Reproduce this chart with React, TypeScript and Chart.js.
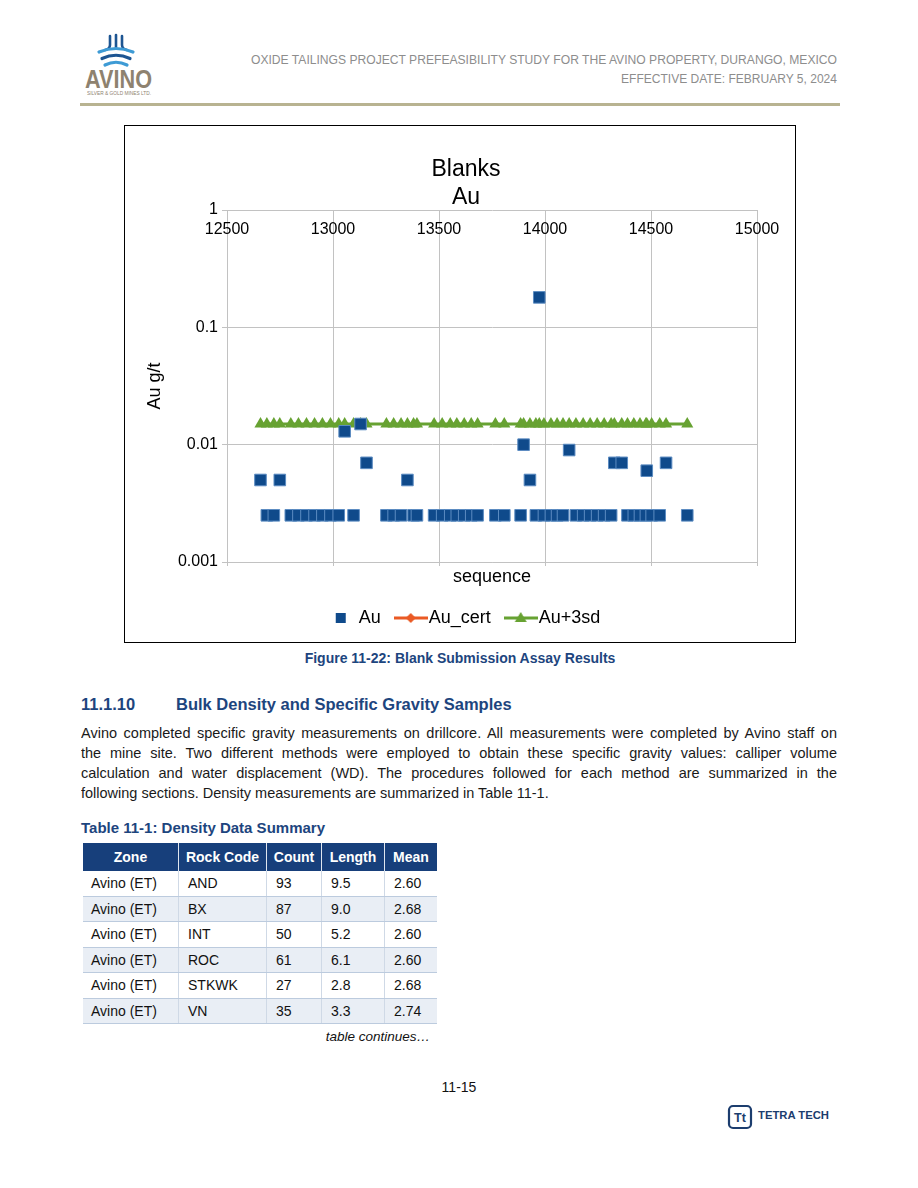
import React, { useEffect, useRef } from 'react';
import { Chart, registerables } from 'chart.js';

Chart.register(...registerables);

// ---------- chart data ----------
const sequence = [
  12658, 12688, 12721, 12749, 12801, 12837, 12875, 12913, 12950, 12988,
  13027, 13055, 13097, 13130, 13158, 13252, 13286, 13321, 13351, 13380,
  13396, 13477, 13515, 13553, 13584, 13619, 13652, 13682, 13766, 13808,
  13885, 13899, 13929, 13957, 13973, 13995, 14028, 14057, 14085, 14114,
  14146, 14180, 14213, 14246, 14279, 14312, 14327, 14362, 14389, 14419,
  14448, 14476, 14480, 14503, 14541, 14571, 14671,
];
const auValues = [
  0.005, 0.0025, 0.0025, 0.005, 0.0025, 0.0025, 0.0025, 0.0025, 0.0025, 0.0025,
  0.0025, 0.013, 0.0025, 0.015, 0.007, 0.0025, 0.0025, 0.0025, 0.005, 0.0025,
  0.0025, 0.0025, 0.0025, 0.0025, 0.0025, 0.0025, 0.0025, 0.0025, 0.0025, 0.0025,
  0.0025, 0.01, 0.005, 0.0025, 0.18, 0.0025, 0.0025, 0.0025, 0.0025, 0.009,
  0.0025, 0.0025, 0.0025, 0.0025, 0.0025, 0.0025, 0.007, 0.007, 0.0025, 0.0025,
  0.0025, 0.0025, 0.006, 0.0025, 0.0025, 0.007, 0.0025,
];
const auPlus3sd = [
  0.015, 0.015, 0.015, 0.015, 0.015, 0.015, 0.015, 0.015, 0.015, 0.015,
  0.015, 0.015, 0.015, 0.015, 0.015, 0.015, 0.015, 0.015, 0.015, 0.015,
  0.015, 0.015, 0.015, 0.015, 0.015, 0.015, 0.015, 0.015, 0.015, 0.015,
  0.015, 0.015, 0.015, 0.015, 0.015, 0.015, 0.015, 0.015, 0.015, 0.015,
  0.015, 0.015, 0.015, 0.015, 0.015, 0.015, 0.015, 0.015, 0.015, 0.015,
  0.015, 0.015, 0.015, 0.015, 0.015, 0.015, 0.015,
];
// certified value of a blank is zero: nothing can be drawn on the log axis
const auCert: { x: number; y: number }[] = [];

const seriesNames = ['Au', 'Au_cert', 'Au+3sd'];
const chartTitle = ['Blanks', 'Au'];
const xAxisTitle = 'sequence';
const yAxisTitle = 'Au g/t';
const xTickValues = [12500, 13000, 13500, 14000, 14500, 15000];
const xTickLabels = ['12500', '13000', '13500', '14000', '14500', '15000'];
const yTickValues = [0.001, 0.01, 0.1, 1];
const yTickLabels = ['0.001', '0.01', '0.1', '1'];

// ---------- table data ----------
const tableHeaders = ['Zone', 'Rock Code', 'Count', 'Length', 'Mean'];
const tableZones = ['Avino (ET)', 'Avino (ET)', 'Avino (ET)', 'Avino (ET)', 'Avino (ET)', 'Avino (ET)'];
const tableRockCodes = ['AND', 'BX', 'INT', 'ROC', 'STKWK', 'VN'];
const tableCounts = ['93', '87', '50', '61', '27', '35'];
const tableLengths = ['9.5', '9.0', '5.2', '6.1', '2.8', '3.3'];
const tableMeans = ['2.60', '2.68', '2.60', '2.60', '2.68', '2.74'];

const paragraphLines = [
  'Avino completed specific gravity measurements on drillcore. All measurements were completed by Avino staff on',
  'the mine site. Two different methods were employed to obtain these specific gravity values: calliper volume',
  'calculation and water displacement (WD). The procedures followed for each method are summarized in the',
  'following sections. Density measurements are summarized in Table 11-1.',
];

// ---------- styles ----------
const FONT = "'Liberation Sans', Arial, Helvetica, sans-serif";
const NARROW = "'Liberation Sans Narrow', 'Arial Narrow', 'Liberation Sans', Arial, sans-serif";
const BLUE = '#0f4a8b';
const GREEN = '#67a232';
const ORANGE = '#ea5a24';
const GRID = '#c2c2c2';
const NAVY = '#1d457e';

function BlanksChart() {
  const ref = useRef<HTMLCanvasElement | null>(null);
  useEffect(() => {
    const canvas = ref.current;
    if (!canvas) return;
    const makeIcon = (draw: (g: CanvasRenderingContext2D) => void) => {
      const c = document.createElement('canvas');
      c.width = 34;
      c.height = 18;
      const g = c.getContext('2d');
      if (g) draw(g);
      return c;
    };
    const icons = [
      makeIcon((g) => {
        g.fillStyle = BLUE;
        g.fillRect(12, 4, 10, 10);
      }),
      makeIcon((g) => {
        g.strokeStyle = ORANGE;
        g.lineWidth = 3;
        g.beginPath();
        g.moveTo(0, 9);
        g.lineTo(34, 9);
        g.stroke();
        g.fillStyle = ORANGE;
        g.beginPath();
        g.moveTo(17, 4);
        g.lineTo(22, 9);
        g.lineTo(17, 14);
        g.lineTo(12, 9);
        g.closePath();
        g.fill();
      }),
      makeIcon((g) => {
        g.strokeStyle = GREEN;
        g.lineWidth = 3;
        g.beginPath();
        g.moveTo(0, 9);
        g.lineTo(34, 9);
        g.stroke();
        g.fillStyle = GREEN;
        g.beginPath();
        g.moveTo(17, 3);
        g.lineTo(23, 13);
        g.lineTo(11, 13);
        g.closePath();
        g.fill();
      }),
    ];

    const topTickLabels = {
      id: 'topTickLabels',
      afterDraw(chart: any) {
        const { ctx, chartArea } = chart;
        const xs = chart.scales.x;
        ctx.save();
        ctx.font = `16px ${FONT}`;
        ctx.fillStyle = '#000';
        ctx.textAlign = 'center';
        ctx.textBaseline = 'middle';
        xTickValues.forEach((v, i) => {
          ctx.fillText(xTickLabels[i], xs.getPixelForValue(v), chartArea.top + 20);
        });
        ctx.restore();
      },
    };

    const chart = new Chart(canvas, {
      type: 'scatter',
      data: {
        datasets: [
          {
            label: seriesNames[0],
            data: sequence.map((x, i) => ({ x, y: auValues[i] })),
            pointStyle: 'rect',
            pointRadius: 8.2,
            backgroundColor: BLUE,
            borderColor: '#5c8cc2',
            borderWidth: 1,
            showLine: false,
          },
          {
            label: seriesNames[1],
            data: auCert,
            pointStyle: 'rectRot',
            pointRadius: 5,
            backgroundColor: ORANGE,
            borderColor: ORANGE,
            borderWidth: 3,
            showLine: true,
          },
          {
            label: seriesNames[2],
            data: sequence.map((x, i) => ({ x, y: auPlus3sd[i] })),
            pointStyle: 'triangle',
            pointRadius: 7,
            pointBorderWidth: 0,
            backgroundColor: GREEN,
            borderColor: GREEN,
            borderWidth: 3.2,
            showLine: true,
          },
        ],
      } as any,
      options: {
        animation: false,
        responsive: false,
        events: [],
        layout: { padding: { left: 50, right: 38, top: 0, bottom: 5 } },
        plugins: {
          tooltip: { enabled: false },
          title: {
            display: true,
            text: chartTitle,
            color: '#000',
            font: { family: FONT, size: 23, weight: 'normal', lineHeight: '28px' },
            padding: { top: 30, bottom: -2 },
          },
          legend: {
            display: true,
            position: 'bottom',
            align: 'center',
            labels: {
              usePointStyle: true,
              pointStyleWidth: 18,
              padding: 21,
              color: '#000',
              font: { family: FONT, size: 18 },
              generateLabels: (ch: any) =>
                ch.data.datasets.map((ds: any, i: number) => ({
                  text: ds.label,
                  pointStyle: icons[i],
                  fillStyle: 'rgba(0,0,0,0)',
                  strokeStyle: 'rgba(0,0,0,0)',
                  lineWidth: 0,
                  hidden: false,
                  fontColor: '#000',
                  datasetIndex: i,
                })),
            },
          },
        },
        scales: {
          x: {
            type: 'linear',
            position: 'bottom',
            min: xTickValues[0],
            max: xTickValues[xTickValues.length - 1],
            afterBuildTicks: (s: any) => {
              s.ticks = xTickValues.map((v) => ({ value: v }));
            },
            ticks: { display: false },
            grid: { color: GRID, tickLength: 4, drawTicks: true },
            border: { color: GRID },
            title: {
              display: true,
              text: xAxisTitle,
              color: '#000',
              font: { family: FONT, size: 18 },
              padding: { top: 0, bottom: 0 },
            },
            afterFit: (s: any) => {
              s.height = 26;
            },
          },
          y: {
            type: 'logarithmic',
            min: yTickValues[0],
            max: yTickValues[yTickValues.length - 1],
            afterBuildTicks: (s: any) => {
              s.ticks = yTickValues.map((v) => ({ value: v }));
            },
            ticks: {
              autoSkip: false,
              color: '#000',
              padding: 4,
              font: { family: FONT, size: 16 },
              callback: (_v: any, i: number) => yTickLabels[i],
            },
            grid: { color: GRID, tickLength: 5, drawTicks: true },
            border: { color: GRID },
            title: {
              display: true,
              text: yAxisTitle,
              color: '#000',
              font: { family: FONT, size: 18 },
              padding: { top: -31, bottom: 0 },
            },
            afterFit: (s: any) => {
              s.width = 52;
            },
          },
        },
      } as any,
      plugins: [topTickLabels],
    });
    return () => chart.destroy();
  }, []);
  return <canvas ref={ref} width={670} height={516} style={{ display: 'block', width: 670, height: 516 }} />;
}

const abs = (left: number, top: number, extra: React.CSSProperties = {}): React.CSSProperties => ({
  position: 'absolute',
  left,
  top,
  ...extra,
});

function AvinoLogo() {
  return (
    <svg style={abs(80, 30)} width={80} height={72}>
      <g fill="none" strokeLinecap="round">
        <path d="M30 6 L30 15 Q30 19 25 20" stroke="#1d5592" strokeWidth={2.6} />
        <path d="M36 5 L36 17" stroke="#1d5592" strokeWidth={2.6} />
        <path d="M42 6 L42 15 Q42 19 47 20" stroke="#1d5592" strokeWidth={2.6} />
        <path d="M19 22 Q36 15 53 22" stroke="#3e9bd5" strokeWidth={3.2} />
        <path d="M22 28.5 Q36 22 50 28.5" stroke="#1d5592" strokeWidth={3.2} />
        <path d="M25 35 Q36 29.5 47 35" stroke="#3e9bd5" strokeWidth={3.2} />
      </g>
      <text x={5} y={58} fontFamily={NARROW} fontSize={26} fontWeight="bold" fill="#8e826f" textLength={67} lengthAdjust="spacingAndGlyphs">
        AVINO
      </text>
      <text x={7} y={65} fontFamily={FONT} fontSize={4.5} fill="#8e826f" textLength={64} lengthAdjust="spacingAndGlyphs">
        SILVER &amp; GOLD MINES LTD.
      </text>
    </svg>
  );
}

function TetraTechLogo() {
  return (
    <svg style={abs(727, 1103)} width={110} height={30}>
      <rect x={2} y={3} width={22} height={22} rx={4} fill="none" stroke="#1c3d6e" strokeWidth={2.2} />
      <text x={13} y={19} textAnchor="middle" fontFamily={FONT} fontSize={12.5} fontWeight="bold" fill="#1c3d6e">
        Tt
      </text>
      <text x={31} y={16} fontFamily={FONT} fontSize={10.5} fontWeight="bold" fill="#1c3d6e" textLength={71} lengthAdjust="spacingAndGlyphs">
        TETRA TECH
      </text>
    </svg>
  );
}

function DensityTable() {
  const colW = [95, 88, 55, 63, 53];
  const rows = tableZones.map((z, i) => [z, tableRockCodes[i], tableCounts[i], tableLengths[i], tableMeans[i]]);
  return (
    <div style={abs(83, 843, { width: 354 })}>
      <div style={{ display: 'flex', height: 28, background: '#173f7b' }}>
        {tableHeaders.map((h, i) => (
          <div
            key={h}
            style={{
              width: colW[i],
              boxSizing: 'border-box',
              borderLeft: i ? '1px solid #dfe6ef' : 'none',
              color: '#fff',
              fontWeight: 'bold',
              fontSize: 14,
              lineHeight: '28px',
              textAlign: 'center',
              whiteSpace: 'nowrap',
            }}
          >
            {h}
          </div>
        ))}
      </div>
      {rows.map((r, ri) => (
        <div
          key={ri}
          style={{
            display: 'flex',
            height: 25.5,
            boxSizing: 'border-box',
            borderBottom: '1.5px solid #bccbde',
            background: ri % 2 ? '#e9eef5' : '#fff',
          }}
        >
          {r.map((c, ci) => (
            <div
              key={ci}
              style={{
                width: colW[ci],
                boxSizing: 'border-box',
                borderLeft: ci ? '1px solid #cfd9e6' : 'none',
                paddingLeft: ci ? 9 : 8,
                fontSize: 14,
                lineHeight: '24px',
                color: '#111',
                whiteSpace: 'nowrap',
              }}
            >
              {c}
            </div>
          ))}
        </div>
      ))}
    </div>
  );
}

export default function App() {
  return (
    <div
      style={{
        position: 'absolute',
        left: 0,
        top: 0,
        width: 918,
        height: 1188,
        background: '#fff',
        fontFamily: FONT,
        color: '#000',
        overflow: 'hidden',
      }}
    >
      <AvinoLogo />
      <svg style={abs(0, 0)} width={918} height={100}>
        <text x={251} y={64} fontFamily={NARROW} fontSize={12.5} fill="#8d8d8d" textLength={586} lengthAdjust="spacingAndGlyphs">
          OXIDE TAILINGS PROJECT PREFEASIBILITY STUDY FOR THE AVINO PROPERTY, DURANGO, MEXICO
        </text>
        <text x={621} y={83} fontFamily={NARROW} fontSize={12.5} fill="#8d8d8d" textLength={216} lengthAdjust="spacingAndGlyphs">
          EFFECTIVE DATE: FEBRUARY 5, 2024
        </text>
      </svg>
      <div style={abs(80, 103, { width: 760, height: 3, background: '#b8b391' })} />

      <div style={abs(124, 125, { width: 670, height: 516, border: '1px solid #000', background: '#fff' })}>
        <BlanksChart />
      </div>

      <div
        style={abs(124, 649, {
          width: 672,
          textAlign: 'center',
          fontSize: 14,
          lineHeight: '18px',
          fontWeight: 'bold',
          color: NAVY,
          whiteSpace: 'nowrap',
        })}
      >
        Figure 11-22: Blank Submission Assay Results
      </div>

      <div style={abs(81, 694, { fontSize: 16.5, lineHeight: '20px', fontWeight: 'bold', color: NAVY, whiteSpace: 'nowrap' })}>
        11.1.10
      </div>
      <div style={abs(176, 694, { fontSize: 16.5, lineHeight: '20px', fontWeight: 'bold', color: NAVY, whiteSpace: 'nowrap' })}>
        Bulk Density and Specific Gravity Samples
      </div>

      {paragraphLines.map((line, i) => (
        <div
          key={i}
          style={abs(81, 723 + i * 20, {
            width: 756,
            height: 20,
            fontSize: 14.5,
            lineHeight: '20px',
            color: '#1a1a1a',
            textAlign: i < paragraphLines.length - 1 ? 'justify' : 'left',
            textAlignLast: i < paragraphLines.length - 1 ? 'justify' : 'left',
            overflow: 'hidden',
          } as React.CSSProperties)}
        >
          {line}
        </div>
      ))}

      <div style={abs(81, 818, { fontSize: 15, lineHeight: '20px', fontWeight: 'bold', color: NAVY, whiteSpace: 'nowrap' })}>
        Table 11-1: Density Data Summary
      </div>

      <DensityTable />

      <div style={abs(83, 1028, { width: 347, textAlign: 'right', fontSize: 13.5, lineHeight: '18px', fontStyle: 'italic', color: '#111' })}>
        table continues…
      </div>

      <div style={abs(0, 1078, { width: 918, textAlign: 'center', fontSize: 14, lineHeight: '18px', color: '#111' })}>11-15</div>

      <TetraTechLogo />
    </div>
  );
}
